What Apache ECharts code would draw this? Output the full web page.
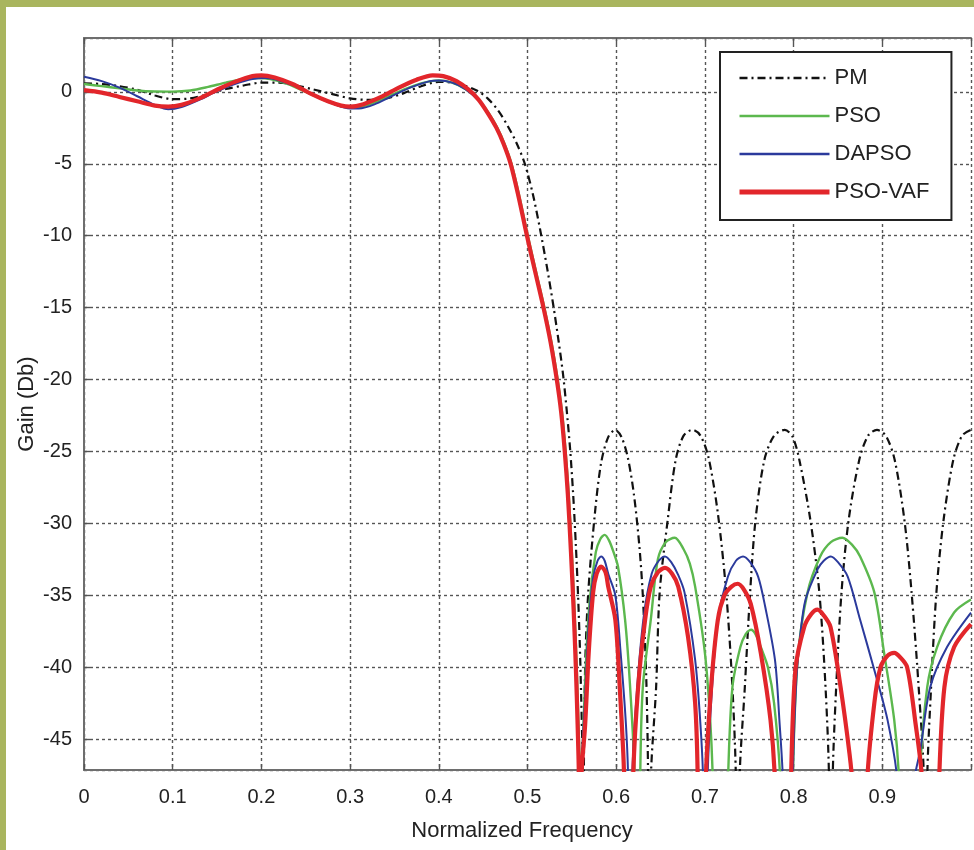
<!DOCTYPE html>
<html>
<head>
<meta charset="utf-8">
<script src="https://cdn.jsdelivr.net/npm/echarts@6/dist/echarts.min.js"></script>
<style>
  html, body { margin: 0; padding: 0; width: 974px; height: 850px; overflow: hidden; background: #a9b55e; }
  #panel { position: absolute; left: 6px; top: 7px; right: 0; bottom: 0; background: #ffffff; }
  #chart { position: absolute; left: 0; top: 0; width: 974px; height: 850px; }
</style>
</head>
<body>
<div id="panel"></div>
<div id="chart"></div>
<script>
// ---- data: [normalized frequency, gain dB] ----
const seriesNames = ['PM', 'PSO', 'DAPSO', 'PSO-VAF'];
const xTicks = [0, 0.1, 0.2, 0.3, 0.4, 0.5, 0.6, 0.7, 0.8, 0.9];
const yTicks = [0, -5, -10, -15, -20, -25, -30, -35, -40, -45];

const pmData = [
  [0.000, 0.60], [0.020, 0.55], [0.040, 0.40], [0.060, 0.15], [0.080, -0.25], [0.100, -0.50],
  [0.120, -0.45], [0.140, -0.15], [0.160, 0.20], [0.180, 0.45], [0.200, 0.65], [0.220, 0.65],
  [0.240, 0.45], [0.260, 0.15], [0.280, -0.15], [0.300, -0.45], [0.320, -0.55], [0.340, -0.45],
  [0.360, -0.10], [0.380, 0.40], [0.400, 0.70], [0.420, 0.60], [0.4415, 0.14], [0.455, -0.45],
  [0.467, -1.3], [0.478, -2.4], [0.488, -3.6], [0.497, -5.0], [0.506, -7.1], [0.514, -9.5],
  [0.522, -12.2], [0.529, -14.8], [0.535, -17.3], [0.540, -19.6], [0.544, -22.0], [0.548, -24.8],
  [0.5515, -28.0], [0.5545, -31.5], [0.557, -35.0], [0.559, -38.5], [0.5605, -42.0], [0.5618, -45.5],
  [0.5625, -48], [0.563, -70], [0.5635, -48], [0.565, -40.0], [0.5685, -34.8], [0.576, -29.3],
  [0.583, -25.8], [0.591, -24.0], [0.599, -23.5], [0.606, -24.0], [0.613, -25.4], [0.620, -28.0],
  [0.626, -31.5], [0.630, -35.0], [0.634, -41.0], [0.636, -48], [0.6375, -70], [0.639, -48],
  [0.645, -41.4], [0.649, -34.8], [0.658, -29.8], [0.667, -25.6], [0.676, -23.9], [0.686, -23.5],
  [0.695, -23.9], [0.704, -25.4], [0.7146, -29.3], [0.724, -34.8], [0.731, -41.4], [0.735, -48],
  [0.737, -70], [0.739, -48], [0.745, -41.4], [0.751, -34.8], [0.757, -29.8], [0.767, -25.6],
  [0.778, -23.9], [0.790, -23.5], [0.799, -24.0], [0.8065, -25.6], [0.819, -29.8], [0.829, -34.8],
  [0.836, -41.4], [0.840, -48], [0.842, -70], [0.844, -48], [0.848, -41.4], [0.854, -34.8],
  [0.862, -29.8], [0.874, -25.6], [0.884, -23.9], [0.894, -23.5], [0.904, -23.9], [0.914, -25.6],
  [0.925, -29.8], [0.933, -34.8], [0.941, -41.4], [0.947, -48], [0.949, -70], [0.9506, -48],
  [0.955, -41.4], [0.961, -34.8], [0.969, -29.8], [0.980, -25.6], [0.990, -23.9], [1.000, -23.5]
];

const psoData = [
  [0.000, 0.55], [0.020, 0.40], [0.040, 0.25], [0.060, 0.10], [0.080, 0.03], [0.100, 0.02],
  [0.120, 0.10], [0.140, 0.35], [0.160, 0.65], [0.180, 0.90], [0.195, 0.97], [0.210, 0.90],
  [0.230, 0.55], [0.250, 0.00], [0.270, -0.55], [0.290, -1.00], [0.305, -1.10], [0.320, -0.90],
  [0.340, -0.40], [0.360, 0.15], [0.380, 0.60], [0.400, 0.80], [0.415, 0.65], [0.430, 0.20],
  [0.445, -0.55], [0.456, -1.45], [0.466, -2.5], [0.474, -3.6], [0.482, -5.0], [0.491, -7.3],
  [0.500, -9.9], [0.510, -12.6], [0.519, -15.0], [0.527, -17.4], [0.534, -20.0], [0.539, -22.3],
  [0.543, -25.0], [0.5465, -28.0], [0.550, -32.0], [0.553, -36.0], [0.5555, -40.0], [0.5575, -44.0],
  [0.5593, -48], [0.5603, -70], [0.5615, -48], [0.565, -41.0], [0.570, -35.5], [0.577, -32.0],
  [0.582, -31.1], [0.587, -30.8], [0.592, -31.2], [0.597, -32.0], [0.602, -33.0], [0.610, -36.7],
  [0.6157, -41.4], [0.621, -48], [0.624, -70], [0.627, -48], [0.630, -41.4], [0.639, -36.7],
  [0.647, -32.5], [0.656, -31.3], [0.666, -31.0], [0.676, -31.8], [0.683, -32.8], [0.689, -34.4],
  [0.700, -39.0], [0.706, -43.7], [0.709, -48], [0.7175, -70], [0.726, -48], [0.731, -41.4],
  [0.740, -38.6], [0.746, -37.7], [0.752, -37.4], [0.757, -37.7], [0.763, -38.6], [0.771, -40.0],
  [0.778, -42.5], [0.785, -48], [0.792, -70], [0.799, -48], [0.8045, -39.5], [0.8157, -34.8],
  [0.830, -32.3], [0.842, -31.3], [0.855, -31.0], [0.866, -31.5], [0.875, -32.3], [0.891, -34.8],
  [0.902, -39.0], [0.9135, -43.7], [0.919, -48], [0.930, -70], [0.942, -48], [0.9506, -41.4],
  [0.9618, -38.6], [0.981, -36.2], [1.000, -35.3]
];

const dapsoData = [
  [0.000, 1.05], [0.020, 0.75], [0.040, 0.30], [0.060, -0.30], [0.080, -0.90], [0.095, -1.20],
  [0.110, -1.05], [0.130, -0.55], [0.150, 0.05], [0.170, 0.55], [0.190, 0.90], [0.205, 0.97],
  [0.220, 0.80], [0.240, 0.35], [0.260, -0.25], [0.280, -0.80], [0.300, -1.15], [0.310, -1.15],
  [0.330, -0.80], [0.350, -0.20], [0.370, 0.35], [0.390, 0.75], [0.400, 0.80], [0.415, 0.65],
  [0.430, 0.20], [0.445, -0.60], [0.455, -1.45], [0.465, -2.5], [0.473, -3.6], [0.481, -5.0],
  [0.490, -7.3], [0.499, -9.9], [0.509, -12.6], [0.518, -15.0], [0.526, -17.4], [0.533, -20.0],
  [0.538, -22.3], [0.542, -25.0], [0.5455, -28.0], [0.549, -32.0], [0.552, -36.0], [0.5545, -40.0],
  [0.5565, -44.0], [0.5583, -48], [0.5595, -70], [0.5605, -48], [0.565, -42.0], [0.569, -37.0],
  [0.574, -33.8], [0.579, -32.6], [0.583, -32.3], [0.587, -32.6], [0.591, -33.5], [0.599, -35.0],
  [0.605, -39.0], [0.611, -44.0], [0.6135, -48], [0.616, -70], [0.618, -48], [0.623, -42.0],
  [0.631, -36.5], [0.640, -33.5], [0.648, -32.6], [0.655, -32.3], [0.662, -32.7], [0.670, -33.6],
  [0.677, -34.8], [0.689, -39.5], [0.695, -44.0], [0.698, -48], [0.7005, -70], [0.703, -48],
  [0.707, -42.5], [0.7146, -36.7], [0.726, -33.7], [0.735, -32.6], [0.743, -32.3], [0.751, -32.7],
  [0.760, -33.7], [0.768, -35.8], [0.779, -39.5], [0.784, -43.7], [0.788, -48], [0.7935, -70],
  [0.799, -48], [0.803, -41.0], [0.808, -37.5], [0.8135, -35.3], [0.827, -33.2], [0.834, -32.6],
  [0.842, -32.3], [0.850, -32.7], [0.861, -33.7], [0.875, -36.7], [0.891, -40.2], [0.906, -43.7],
  [0.917, -48], [0.927, -70], [0.936, -48], [0.943, -45.7], [0.954, -41.4], [0.973, -38.6],
  [1.000, -36.2]
];

const vafData = [
  [0.000, 0.12], [0.020, -0.05], [0.040, -0.35], [0.060, -0.65], [0.080, -0.95], [0.095, -1.02],
  [0.110, -0.90], [0.130, -0.45], [0.150, 0.15], [0.170, 0.70], [0.190, 1.10], [0.200, 1.15],
  [0.215, 1.00], [0.235, 0.55], [0.255, -0.10], [0.275, -0.65], [0.290, -0.95], [0.300, -1.02],
  [0.315, -0.85], [0.335, -0.35], [0.355, 0.30], [0.375, 0.85], [0.393, 1.15], [0.405, 1.10],
  [0.420, 0.75], [0.434, 0.14], [0.445, -0.55], [0.455, -1.45], [0.465, -2.5], [0.473, -3.6],
  [0.481, -5.0], [0.490, -7.3], [0.499, -9.9], [0.509, -12.6], [0.518, -15.0], [0.526, -17.4],
  [0.533, -20.0], [0.538, -22.3], [0.542, -25.0], [0.5455, -28.0], [0.549, -32.0], [0.552, -36.0],
  [0.5545, -40.0], [0.5565, -44.0], [0.558, -48], [0.559, -70], [0.5605, -48], [0.565, -44.0],
  [0.569, -39.0], [0.574, -34.8], [0.578, -33.5], [0.583, -33.0], [0.588, -33.4], [0.591, -34.4],
  [0.599, -36.7], [0.604, -41.4], [0.608, -46.0], [0.609, -48], [0.614, -70], [0.619, -48],
  [0.6247, -41.4], [0.6326, -36.7], [0.639, -34.4], [0.647, -33.4], [0.655, -33.1], [0.663, -33.5],
  [0.670, -34.4], [0.681, -37.9], [0.689, -42.5], [0.692, -48], [0.6965, -70], [0.701, -48],
  [0.707, -41.4], [0.7146, -36.7], [0.722, -35.0], [0.730, -34.4], [0.737, -34.2], [0.744, -34.6],
  [0.7517, -35.6], [0.763, -39.0], [0.774, -43.7], [0.779, -48], [0.788, -70], [0.797, -48],
  [0.802, -40.2], [0.812, -37.2], [0.820, -36.3], [0.827, -36.0], [0.834, -36.4], [0.8416, -37.2],
  [0.853, -41.4], [0.863, -46.0], [0.866, -48], [0.8745, -70], [0.883, -48], [0.891, -42.5],
  [0.898, -40.0], [0.906, -39.2], [0.9135, -39.0], [0.920, -39.3], [0.928, -40.0], [0.937, -43.7],
  [0.945, -48], [0.9545, -70], [0.964, -48], [0.970, -41.4], [0.981, -38.6], [1.000, -37.0]
];

// ---- chart ----
const FONT = '"Liberation Sans", Arial, Helvetica, sans-serif';
const chart = echarts.init(document.getElementById('chart'), null, { renderer: 'canvas' });

const gridLine = { show: true, lineStyle: { color: '#555', width: 1.4, type: [3, 3] } };
const frameLine = { show: true, onZero: false, lineStyle: { color: '#6e6e6e', width: 2 } };
const tickStyle = { show: true, inside: true, length: 6, lineStyle: { color: '#555', width: 1.4 } };

function isTick(list, v) {
  return list.some(t => Math.abs(t - v) < 1e-6);
}

const SMOOTH = 0.3;
const styles = {
  'PM': { color: '#111111', width: 2.2, type: [8, 4, 2, 4], z: 2 },
  'PSO': { color: '#5cb84e', width: 2.4, type: 'solid', z: 3 },
  'DAPSO': { color: '#2b3a9c', width: 2, type: 'solid', z: 4 },
  'PSO-VAF': { color: '#e2262b', width: 4.2, type: 'solid', z: 5 }
};
const dataByName = { 'PM': pmData, 'PSO': psoData, 'DAPSO': dapsoData, 'PSO-VAF': vafData };

const option = {
  animation: false,
  grid: { left: 84, top: 38, right: -2, bottom: 80, containLabel: false },
  legend: {
    orient: 'vertical',
    left: 720,
    top: 52,
    backgroundColor: '#ffffff',
    borderColor: '#222222',
    borderWidth: 2,
    borderRadius: 0,
    padding: [15, 22, 17, 17],
    itemWidth: 90,
    itemHeight: 14,
    itemGap: 16,
    itemStyle: { opacity: 0 },
    textStyle: { fontFamily: FONT, fontSize: 22, color: '#222' },
    data: seriesNames.map(n => ({
      name: n,
      lineStyle: { width: n === 'PSO-VAF' ? 5 : 2.6, type: styles[n].type, color: styles[n].color }
    }))
  },
  xAxis: [
    {
      type: 'value', min: 0, max: 1, interval: 0.1,
      axisLine: frameLine,
      axisTick: tickStyle,
      splitLine: gridLine,
      axisLabel: {
        fontFamily: FONT, fontSize: 20, color: '#222', margin: 17,
        formatter: v => isTick(xTicks, v) ? (v === 0 ? '0' : v.toFixed(1)) : ''
      },
      name: 'Normalized Frequency',
      nameLocation: 'middle',
      nameGap: 50,
      nameMoveOverlap: false,
      nameTextStyle: { fontFamily: FONT, fontSize: 22, color: '#222', padding: [0, 11, 0, 0] }
    },
    {
      type: 'value', min: 0, max: 1, interval: 0.1, position: 'top',
      axisLine: frameLine,
      axisTick: tickStyle,
      splitLine: { show: false },
      axisLabel: { show: false }
    }
  ],
  yAxis: {
    type: 'value', min: -47.15, max: 3.75,
    splitNumber: 10, minInterval: 5, maxInterval: 5,
    axisLine: frameLine,
    axisTick: tickStyle,
    splitLine: gridLine,
    axisLabel: {
      fontFamily: FONT, fontSize: 20, color: '#222', margin: 12,
      showMinLabel: false, showMaxLabel: false,
      formatter: v => isTick(yTicks, v) ? String(Math.round(v)) : ''
    },
    name: 'Gain (Db)',
    nameLocation: 'middle',
    nameGap: 46,
    nameMoveOverlap: false,
    nameRotate: 90,
    nameTextStyle: { fontFamily: FONT, fontSize: 22, color: '#222' }
  },
  series: seriesNames.map(n => ({
    name: n, type: 'line', data: dataByName[n], showSymbol: false, symbol: 'none',
    smooth: SMOOTH, clip: true, z: styles[n].z,
    lineStyle: { color: styles[n].color, width: styles[n].width, type: styles[n].type },
    itemStyle: { color: styles[n].color }
  }))
};

chart.setOption(option);
</script>
</body>
</html>
